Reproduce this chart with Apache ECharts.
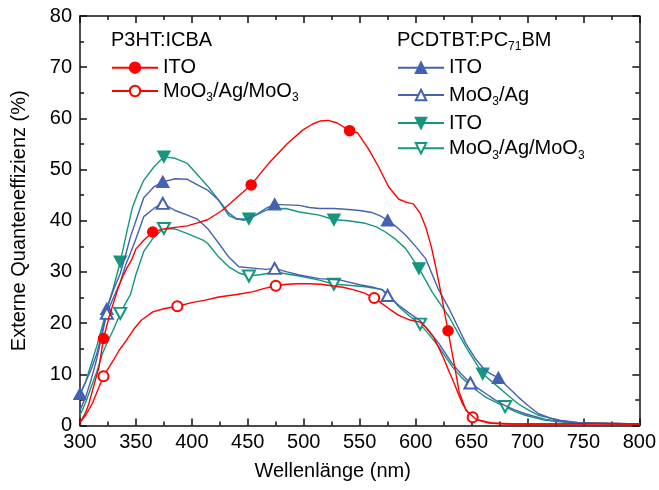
<!DOCTYPE html>
<html>
<head>
<meta charset="utf-8">
<script src="https://cdn.jsdelivr.net/npm/echarts@6/dist/echarts.min.js"></script>
<style>
  html, body { margin: 0; padding: 0; background: #ffffff; }
  #chart { width: 659px; height: 490px; }
</style>
</head>
<body>
<div id="chart"></div>
<script>
// External quantum efficiency spectra, wavelength in nm, EQE in %.

// P3HT:ICBA on ITO
const p3htItoX = [300, 305, 308, 312, 317, 321, 326, 330, 334, 338, 342, 346, 350, 357, 365, 375, 385, 396, 405, 414, 427, 440, 453, 469, 485, 499, 508, 515, 522, 530, 541, 548, 558, 567, 576, 585, 592, 598, 604, 609, 614, 618, 623, 629, 635, 639, 645, 654, 668, 690, 720, 750, 780, 800];
const p3htItoY = [0.5, 2.5, 4.3, 7.5, 11.4, 17.0, 21.2, 24.0, 26.8, 29.0, 30.8, 32.3, 34.5, 36.2, 37.8, 38.4, 38.7, 39.0, 39.6, 40.2, 42.0, 44.5, 47.0, 51.3, 55.0, 57.7, 58.9, 59.5, 59.6, 59.1, 57.6, 57.2, 54.0, 50.5, 46.6, 44.2, 43.6, 43.3, 41.5, 38.8, 35.0, 31.0, 25.5, 18.5, 11.4, 6.5, 3.0, 1.2, 0.5, 0.3, 0.3, 0.3, 0.4, 0.3];
const p3htItoMarks = [321, 365, 453, 541, 629];

// P3HT:ICBA on MoO3/Ag/MoO3
const p3htMamX = [300, 305, 311, 316, 321, 326, 330, 335, 341, 348, 355, 365, 375, 387, 400, 412, 424, 440, 454, 465, 475, 485, 495, 505, 515, 525, 535, 545, 555, 563, 570, 577, 585, 595, 604, 610, 616, 620, 625, 630, 634, 638, 642, 646, 651, 658, 665, 680, 700, 730, 760, 800];
const p3htMamY = [0.6, 2.0, 4.3, 7.0, 9.6, 11.4, 12.8, 14.7, 16.5, 18.8, 20.6, 22.2, 22.8, 23.3, 24.0, 24.5, 25.1, 25.6, 26.1, 26.8, 27.3, 27.6, 27.7, 27.7, 27.6, 27.3, 27.0, 26.5, 25.8, 24.9, 23.8, 22.7, 21.5, 20.6, 20.2, 19.0, 17.3, 15.5, 13.2, 10.5, 8.5, 6.3, 4.2, 2.8, 1.6, 0.9, 0.5, 0.3, 0.3, 0.3, 0.4, 0.3];
const p3htMamMarks = [321, 387, 475, 563, 651];

// PCDTBT:PC71BM on ITO (blue)
const pcdItoBX = [300, 305, 310, 315, 320, 324, 330, 336, 341, 345, 350, 357, 366, 374, 385, 396, 405, 414, 424, 433, 440, 447, 457, 466, 474, 485, 496, 505, 514, 527, 540, 550, 561, 568, 575, 583, 591, 600, 609, 620, 630, 638, 645, 653, 662, 668, 674, 683, 692, 701, 710, 720, 730, 745, 760, 780, 800];
const pcdItoBY = [6.2, 8.5, 11.0, 14.0, 18.5, 22.8, 26.5, 29.7, 33.5, 36.8, 40.0, 44.5, 46.6, 47.6, 48.2, 48.1, 47.0, 46.0, 44.0, 41.5, 40.4, 40.1, 41.1, 42.4, 43.2, 43.1, 43.0, 42.6, 42.4, 42.4, 42.2, 42.0, 41.6, 41.0, 40.1, 38.8, 37.2, 35.0, 32.6, 26.8, 22.8, 19.2, 16.0, 13.2, 10.8, 10.0, 9.3, 7.4, 5.5, 3.8, 2.3, 1.5, 1.0, 0.6, 0.5, 0.4, 0.3];
const pcdItoBMarks = [300, 324, 374, 474, 575, 674];

// PCDTBT:PC71BM on MoO3/Ag
const pcdMaX = [300, 305, 310, 315, 320, 324, 330, 336, 341, 345, 350, 357, 366, 374, 385, 396, 405, 414, 424, 433, 442, 457, 466, 474, 485, 496, 514, 533, 550, 562, 570, 575, 585, 594, 604, 612, 621, 633, 641, 649, 656, 663, 671, 680, 689, 698, 716, 740, 770, 800];
const pcdMaY = [3.0, 5.5, 9.0, 13.0, 18.0, 21.9, 25.0, 28.0, 31.5, 33.6, 36.5, 40.8, 42.4, 43.4, 42.0, 41.1, 40.3, 38.5, 35.6, 32.9, 31.0, 30.7, 30.5, 30.7, 30.0, 29.4, 28.7, 28.4, 27.5, 27.0, 26.5, 25.4, 23.5, 22.0, 20.5, 18.4, 16.0, 12.0, 10.0, 8.3, 7.2, 6.2, 5.0, 3.9, 3.0, 2.3, 1.2, 0.6, 0.4, 0.3];
const pcdMaMarks = [324, 374, 474, 575, 649];

// PCDTBT:PC71BM on ITO (teal)
const pcdItoGX = [300, 305, 310, 315, 320, 325, 330, 336, 341, 347, 352, 357, 366, 375, 385, 396, 405, 414, 424, 433, 440, 451, 460, 469, 484, 496, 514, 527, 540, 555, 565, 573, 582, 591, 603, 615, 630, 645, 660, 674, 683, 692, 701, 710, 728, 745, 770, 800];
const pcdItoGY = [6.0, 8.5, 12.0, 15.5, 19.5, 23.5, 27.0, 32.0, 37.0, 42.7, 45.5, 47.9, 50.5, 52.5, 52.2, 51.2, 49.0, 46.8, 44.0, 41.0, 40.3, 40.4, 41.4, 42.3, 42.4, 41.7, 41.1, 40.2, 40.0, 39.5, 38.8, 37.8, 36.4, 34.6, 30.7, 26.0, 21.2, 15.3, 10.1, 7.5, 5.8, 4.2, 3.0, 2.0, 1.0, 0.5, 0.4, 0.3];
const pcdItoGMarks = [336, 375, 451, 527, 603, 660];

// PCDTBT:PC71BM on MoO3/Ag/MoO3
const pcdMamX = [300, 305, 310, 315, 320, 325, 330, 336, 341, 345, 350, 357, 366, 375, 385, 396, 410, 414, 424, 433, 442, 451, 462, 475, 485, 496, 514, 527, 540, 555, 570, 578, 585, 594, 604, 612, 621, 633, 641, 649, 656, 663, 671, 680, 689, 698, 716, 740, 770, 800];
const pcdMamY = [2.0, 4.5, 7.5, 10.5, 14.0, 16.5, 18.8, 21.9, 24.0, 25.5, 29.5, 34.0, 36.8, 38.5, 38.4, 37.5, 36.2, 35.6, 32.9, 31.0, 29.8, 29.2, 29.5, 30.0, 29.6, 29.2, 28.4, 27.6, 27.4, 27.1, 26.6, 25.0, 23.2, 21.5, 19.8, 17.8, 15.3, 11.4, 9.4, 7.8, 6.6, 5.5, 4.6, 3.7, 2.7, 2.0, 1.0, 0.5, 0.4, 0.3];
const pcdMamMarks = [336, 375, 451, 527, 604, 680];

// Axis ticks
const xTicks = { min: 300, max: 800, step: 50 };
const yTicks = { min: 0, max: 80, step: 10 };

// Legend entries: series name -> displayed (rich) label
const legendLabels = {
  'P3HT ITO': 'ITO',
  'P3HT MoO3/Ag/MoO3': 'MoO{s|3}/Ag/MoO{s|3}',
  'PCDTBT ITO blue': 'ITO',
  'PCDTBT MoO3/Ag': 'MoO{s|3}/Ag',
  'PCDTBT ITO teal': 'ITO',
  'PCDTBT MoO3/Ag/MoO3': 'MoO{s|3}/Ag/MoO{s|3}'
};

const FONT = '"Liberation Sans", Arial, Helvetica, sans-serif';
const RED = '#ff0000';
const BLUE = '#4561b1';
const TEAL = '#14977e';
const AXIS = '#111111';

function buildData(xs, ys, marks) {
  return xs.map((x, i) => {
    const item = { value: [x, ys[i]] };
    if (marks.indexOf(x) < 0) item.symbol = 'none';
    return item;
  });
}

function lineSeries(name, xs, ys, marks, color, symbol, size, rotate, z) {
  return {
    name: name,
    type: 'line',
    data: buildData(xs, ys, marks),
    symbol: symbol,
    symbolSize: size,
    symbolRotate: rotate,
    showSymbol: true,
    showAllSymbol: true,
    lineStyle: { color: color, width: 1.4 },
    itemStyle: { color: color, borderColor: color, borderWidth: 1.5 },
    emphasis: { disabled: true },
    silent: true,
    z: z
  };
}

const richSub = {
  s: { fontSize: 12, fontFamily: FONT, color: '#000', verticalAlign: 'bottom', padding: [0, 0, -3, 0] }
};

function legendAt(name, left, centerY) {
  return {
    data: [name],
    left: left,
    top: centerY - 10,
    orient: 'vertical',
    padding: 0,
    itemWidth: 46,
    itemHeight: 13,
    selectedMode: false,
    formatter: n => legendLabels[n],
    textStyle: { fontSize: 20, fontFamily: FONT, color: '#000', lineHeight: 20, rich: richSub }
  };
}

const axisCommon = {
  type: 'value',
  splitLine: { show: false },
  axisLine: { show: true, onZero: false, lineStyle: { color: AXIS, width: 1.5 } },
  axisTick: { show: true, inside: true, length: 7, lineStyle: { color: AXIS, width: 1.5 } },
  minorTick: { show: true, splitNumber: 2, length: 4, lineStyle: { color: AXIS, width: 1.5 } }
};

const chart = echarts.init(document.getElementById('chart'), null, { renderer: 'canvas' });

chart.setOption({
  animation: false,
  backgroundColor: '#ffffff',
  textStyle: { fontFamily: FONT },
  grid: { left: 80, right: 19.5, top: 16, bottom: 64.5 },
  title: [
    { text: 'P3HT:ICBA', left: 111, top: 30, padding: 0,
      textStyle: { fontSize: 20, fontWeight: 'normal', fontFamily: FONT, color: '#000', lineHeight: 20 } },
    { text: 'PCDTBT:PC{s|71}BM', left: 397, top: 30, padding: 0,
      textStyle: { fontSize: 20, fontWeight: 'normal', fontFamily: FONT, color: '#000', lineHeight: 20, rich: richSub } }
  ],
  legend: [
    legendAt('P3HT ITO', 111, 67.7),
    legendAt('P3HT MoO3/Ag/MoO3', 111, 91),
    legendAt('PCDTBT ITO blue', 397, 67.7),
    legendAt('PCDTBT MoO3/Ag', 397, 95),
    legendAt('PCDTBT ITO teal', 397, 123),
    legendAt('PCDTBT MoO3/Ag/MoO3', 397, 148.3)
  ],
  xAxis: [
    Object.assign({}, axisCommon, {
      min: xTicks.min, max: xTicks.max, interval: xTicks.step, position: 'bottom',
      axisLabel: { fontSize: 20, color: '#000', fontFamily: FONT, margin: 7 },
      name: 'Wellenlänge (nm)', nameLocation: 'middle', nameGap: 36,
      nameTextStyle: { fontSize: 20, color: '#000', fontFamily: FONT, padding: [0, 54, 0, 0] }
    }),
    Object.assign({}, axisCommon, {
      min: xTicks.min, max: xTicks.max, interval: xTicks.step, position: 'top',
      axisLabel: { show: false }
    })
  ],
  yAxis: [
    Object.assign({}, axisCommon, {
      min: yTicks.min, max: yTicks.max, interval: yTicks.step, position: 'left',
      axisLabel: { fontSize: 20, color: '#000', fontFamily: FONT, margin: 8 },
      name: 'Externe Quanteneffizienz (%)', nameLocation: 'middle', nameGap: 51,
      nameTextStyle: { fontSize: 20, color: '#000', fontFamily: FONT }
    }),
    Object.assign({}, axisCommon, {
      min: yTicks.min, max: yTicks.max, interval: yTicks.step, position: 'right',
      axisLabel: { show: false }
    })
  ],
  series: [
    lineSeries('PCDTBT ITO teal', pcdItoGX, pcdItoGY, pcdItoGMarks, TEAL, 'triangle', [12, 11], 180, 2),
    lineSeries('PCDTBT ITO blue', pcdItoBX, pcdItoBY, pcdItoBMarks, BLUE, 'triangle', [12, 11], 0, 3),
    lineSeries('PCDTBT MoO3/Ag/MoO3', pcdMamX, pcdMamY, pcdMamMarks, TEAL, 'emptyTriangle', [12, 11], 180, 4),
    lineSeries('PCDTBT MoO3/Ag', pcdMaX, pcdMaY, pcdMaMarks, BLUE, 'emptyTriangle', [12, 11], 0, 5),
    lineSeries('P3HT MoO3/Ag/MoO3', p3htMamX, p3htMamY, p3htMamMarks, RED, 'emptyCircle', 10, 0, 6),
    lineSeries('P3HT ITO', p3htItoX, p3htItoY, p3htItoMarks, RED, 'circle', 10, 0, 7)
  ]
});
</script>
</body>
</html>
